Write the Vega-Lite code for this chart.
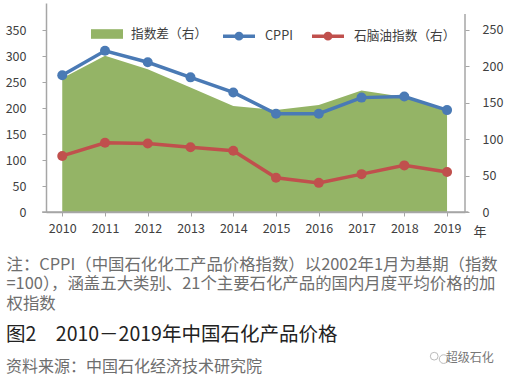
{
"$schema":"https://vega.github.io/schema/vega-lite/v6.json",
"width":419,"height":209,
"autosize":{"type":"none"},
"padding":{"left":46,"top":3,"right":44,"bottom":168},
"background":"white",
"config":{"view":{"stroke":null},"font":"Noto Sans CJK SC","axis":{"grid":false},"style":{"guide-title":{"font":"Noto Sans CJK SC"}}},
"title":{"text":"图2　2010－2019年中国石化产品价格","subtitle":"资料来源：中国石化经济技术研究院","orient":"bottom","anchor":"start","frame":"group","dx":-40,"dy":-47,"offset":8,"font":"Noto Sans CJK SC","fontSize":19.5,"fontWeight":400,"color":"#222222","subtitleFont":"Noto Sans CJK SC","subtitleFontSize":16,"subtitleColor":"#6e6e6e","subtitlePadding":13},
"data":{"values":[
{"year":2010,"series":"指数差（右）","value":183.6},{"year":2011,"series":"指数差（右）","value":214.7},{"year":2012,"series":"指数差（右）","value":196},{"year":2013,"series":"指数差（右）","value":171},{"year":2014,"series":"指数差（右）","value":145.6},{"year":2015,"series":"指数差（右）","value":140},{"year":2016,"series":"指数差（右）","value":147},{"year":2017,"series":"指数差（右）","value":166.7},{"year":2018,"series":"指数差（右）","value":158},{"year":2019,"series":"指数差（右）","value":138},
{"year":2010,"series":"CPPI","value":263},{"year":2011,"series":"CPPI","value":310},{"year":2012,"series":"CPPI","value":288},{"year":2013,"series":"CPPI","value":259},{"year":2014,"series":"CPPI","value":230},{"year":2015,"series":"CPPI","value":189},{"year":2016,"series":"CPPI","value":189},{"year":2017,"series":"CPPI","value":220},{"year":2018,"series":"CPPI","value":222},{"year":2019,"series":"CPPI","value":196},
{"year":2010,"series":"石脑油指数（右）","value":77},{"year":2011,"series":"石脑油指数（右）","value":95},{"year":2012,"series":"石脑油指数（右）","value":94},{"year":2013,"series":"石脑油指数（右）","value":89},{"year":2014,"series":"石脑油指数（右）","value":84},{"year":2015,"series":"石脑油指数（右）","value":47},{"year":2016,"series":"石脑油指数（右）","value":40},{"year":2017,"series":"石脑油指数（右）","value":52},{"year":2018,"series":"石脑油指数（右）","value":64},{"year":2019,"series":"石脑油指数（右）","value":55}
]},
"resolve":{"scale":{"y":"independent"},"axis":{"y":"independent"}},
"layer":[
{"transform":[{"filter":"datum.series==='指数差（右）'"}],
 "mark":{"type":"area","opacity":1},
 "encoding":{
  "x":{"field":"year","type":"quantitative","scale":{"domain":[2009.62,2019.42],"nice":false,"zero":false},
   "axis":{"title":["注：CPPI（中国石化化工产品价格指数）以2002年1月为基期（指数","=100），涵盖五大类别、21个主要石化产品的国内月度平均价格的加","权指数"],
    "titleFont":"Noto Sans CJK SC","titleFontSize":16.4,"titleFontWeight":400,"titleColor":"#6e6e6e","titleAnchor":"start","titleAlign":"left","titleBaseline":"middle","titleX":-40,"titleY":52,"titleLineHeight":19.5,
    "values":[2010,2011,2012,2013,2014,2015,2016,2017,2018,2019],"format":"d","labelFontSize":12.5,"labelColor":"#404040","labelPadding":6,"tickColor":"#a6a6a6","tickSize":4,"domainColor":"#a6a6a6","domainWidth":1.5,"labelFlush":false,"labelOverlap":false}},
  "y":{"field":"value","type":"quantitative","scale":{"domain":[0,287],"nice":false},"axis":{"orient":"right","title":null,"values":[0,50,100,150,200,250],"labelFontSize":12.5,"labelColor":"#404040","labelPadding":13,"tickColor":"#a6a6a6","tickSize":4,"domain":false}},
  "fill":{"field":"series","type":"nominal","scale":{"domain":["指数差（右）"],"range":["#94b466"]},
   "legend":{"title":null,"orient":"none","legendX":45,"legendY":15,"symbolType":"M-1,-0.3H1V0.3H-1Z","symbolSize":1024,"symbolStrokeWidth":0,"symbolOpacity":1,"labelFontSize":12.7,"labelColor":"#404040","labelOffset":8}}
 }},
{"transform":[{"filter":"datum.series==='石脑油指数（右）'"}],
 "mark":{"type":"line","strokeWidth":3.5,"point":{"filled":true,"size":100}},
 "encoding":{
  "x":{"field":"year","type":"quantitative"},
  "y":{"field":"value","type":"quantitative","scale":{"domain":[0,287],"nice":false},"axis":null},
  "color":{"field":"series","type":"nominal","scale":{"domain":["CPPI","石脑油指数（右）"],"range":["#4a7ab5","#c0504d"]},
   "legend":{"title":null,"orient":"none","legendX":175,"legendY":15,"direction":"horizontal","symbolType":"M-1,0H1M0.17,0A0.17,0.17,0,1,1,-0.17,0A0.17,0.17,0,1,1,0.17,0ZM0.06,0A0.06,0.06,0,1,1,-0.06,0A0.06,0.06,0,1,1,0.06,0Z","symbolSize":1024,"symbolStrokeWidth":3.5,"labelFontSize":12.7,"labelColor":"#404040","labelOffset":8,"columnPadding":12}}
 }},
{"transform":[{"filter":"datum.series==='CPPI'"}],
 "mark":{"type":"line","strokeWidth":3.5,"point":{"filled":true,"size":100}},
 "encoding":{
  "x":{"field":"year","type":"quantitative"},
  "y":{"field":"value","type":"quantitative","scale":{"domain":[0,402],"nice":false},"axis":{"orient":"left","title":null,"values":[0,50,100,150,200,250,300,350],"labelFontSize":12.5,"labelColor":"#404040","labelPadding":16,"tickColor":"#a6a6a6","tickSize":4,"domainColor":"#a6a6a6","domainWidth":1.5}},
  "color":{"field":"series","type":"nominal"}
 }},
{"data":{"values":[{"a":1}]},"mark":{"type":"rule","color":"#a6a6a6","strokeWidth":1.5},
 "encoding":{"x":{"datum":2019.42,"type":"quantitative"},"y":{"datum":0,"type":"quantitative","scale":{"domain":[0,287],"nice":false},"axis":null},"y2":{"datum":272}}},
{"data":{"values":[{"a":1}]},"mark":{"type":"rule","color":"#a6a6a6","strokeWidth":1.5},
 "encoding":{"x":{"datum":2009.53,"type":"quantitative"},"x2":{"datum":2019.5},"y":{"datum":0,"type":"quantitative","scale":{"domain":[0,287],"nice":false},"axis":null}}},
{"data":{"values":[{"a":1}]},"mark":{"type":"text","text":"年","fontSize":13,"fontWeight":400,"color":"#404040","dx":33,"dy":20},
 "encoding":{"x":{"datum":2019,"type":"quantitative"},"y":{"datum":0,"type":"quantitative","scale":{"domain":[0,287],"nice":false},"axis":null}}},
{"data":{"values":[{"a":1}]},"mark":{"type":"text","text":"超级石化","fontSize":12,"fontWeight":400,"color":"#777777"},
 "encoding":{"x":{"datum":2019.53,"type":"quantitative"},"y":{"datum":-200,"type":"quantitative","scale":{"domain":[0,287],"nice":false},"axis":null}}},
{"data":{"values":[{"ix":2018.7,"iy":-198,"s":60},{"ix":2018.92,"iy":-202,"s":75}]},
 "mark":{"type":"point","filled":false,"color":"#a0a0a0","strokeWidth":1},
 "encoding":{"x":{"field":"ix","type":"quantitative"},"y":{"field":"iy","type":"quantitative","scale":{"domain":[0,287],"nice":false},"axis":null},"size":{"field":"s","type":"quantitative","scale":null,"legend":null}}}
]
}
